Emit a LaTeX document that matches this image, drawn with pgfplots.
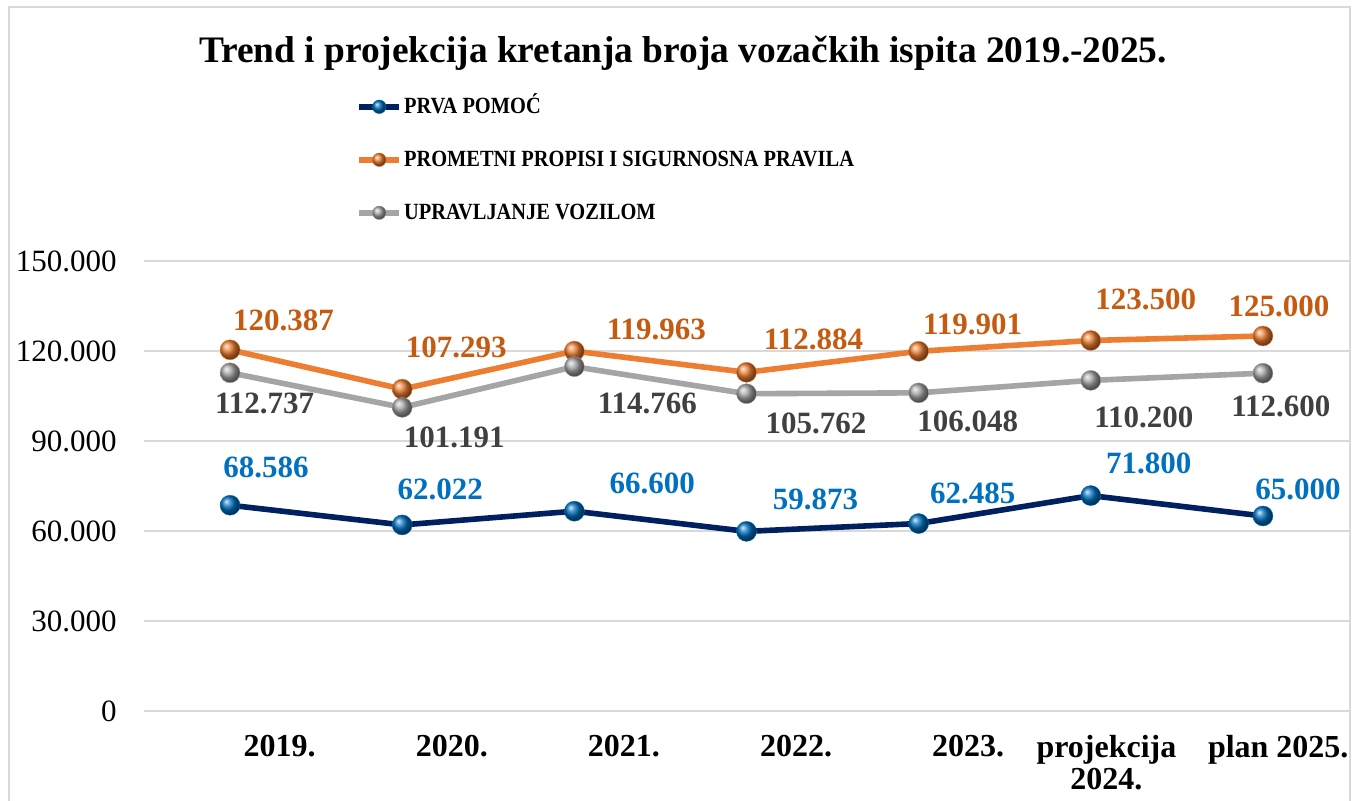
\documentclass[border=0pt]{standalone}
\usepackage{pgfplots}
\pgfplotsset{compat=1.18}
\usepackage{graphicx}
\usepackage{fontspec}
\setmainfont{Liberation Serif}
\definecolor{navy}{HTML}{002060}
\definecolor{blueball}{HTML}{0070C0}
\definecolor{orangeline}{HTML}{ED7D31}
\definecolor{orangelab}{HTML}{C55A11}
\definecolor{grayline}{HTML}{A5A5A5}
\definecolor{graylab}{HTML}{404040}
\definecolor{gridc}{HTML}{D9D9D9}

\pgfplotstableset{col sep=space}
\pgfplotstableread{
x y lx ly
0 68586 18 19
1 62022 19 18
2 66600 39 14
3 59873 34.5 16
4 62485 27 15
5 71800 29 16
6 65000 17.5 13.5
}\prva
\pgfplotstableread{
x y lx ly
0 120387 26.75 14.5
1 107293 27 21
2 119963 41 11
3 112884 33.5 16.5
4 119901 27 13.5
5 123500 27.5 20.75
6 125000 8 15
}\prometni
\pgfplotstableread{
x y lx ly
0 112737 17.25 -15.5
1 101191 26 -15
2 114766 36.5 -18.5
3 105762 34.75 -15
4 106048 24.5 -14.5
5 110200 26.5 -18.5
6 112600 9 -16.5
}\upravljanje

\newcommand{\leg}[1]{\scalebox{0.88}[1]{#1}}

\begin{document}
\begin{tikzpicture}
\useasboundingbox (0,0) rectangle (677pt,400.5pt);
\draw[gridc, line width=1pt] (4.5pt,-5pt) -- (4.5pt,397pt) -- (675pt,397pt) -- (675pt,-5pt);
\node[font=\bfseries\fontsize{18.7}{20}\selectfont, anchor=center] at (341.5pt,374pt) {Trend i projekcija kretanja broja vozačkih ispita 2019.-2025.};
\begin{axis}[
  at={(72pt,45pt)}, anchor=south west,
  scale only axis, width=602.5pt, height=225pt,
  xmin=-0.5, xmax=6.5, ymin=0, ymax=150000,
  axis line style={draw=none},
  tick pos=left,
  ytick={0,30000,60000,90000,120000,150000},
  ymajorgrids, grid style={gridc, line width=1pt},
  major tick length=0pt,
  scaled y ticks=false,
  yticklabel style={font=\fontsize{15.5}{17}\selectfont, inner sep=0pt, xshift=-13.5pt,
    /pgf/number format/.cd, fixed, precision=0, 1000 sep={.}, assume math mode=true},
  xtick={0,...,6},
  xticklabels={2019.,2020.,2021.,2022.,2023.,{projekcija\\2024.},plan 2025.},
  xticklabel style={font=\bfseries\fontsize{16}{16}\selectfont, align=center, anchor=north east, inner sep=0pt, yshift=-12pt, xshift=43pt},
  clip=false,
  nodes near coords={\pgfmathprintnumber[fixed,precision=0,1000 sep={.},assume math mode=true]{\pgfplotspointmeta}},
  visualization depends on={\thisrow{lx} \as \labx},
  visualization depends on={\thisrow{ly} \as \laby},
  every node near coord/.append style={anchor=center, xshift=\labx pt, yshift=\laby pt, inner sep=0pt, font=\bfseries\fontsize{15.5}{17}\selectfont},
  legend cell align=left,
  legend style={draw=none, fill=none, at={(0.176,1.368)}, anchor=north west, inner sep=0pt,
    row sep=15.5pt, font=\bfseries\fontsize{11.6}{12}\selectfont,
    nodes={inner sep=1pt, text height=8pt, text depth=1pt, xshift=-2.5pt}},
  legend image code/.code={\draw[mark repeat=2, mark phase=2, mark size=3.4pt] plot coordinates {(0pt,0pt) (10pt,0pt) (20pt,0pt)};},
]
\addplot[navy, line width=2.8pt, mark=ball, mark size=5pt, mark options={ball color=blueball, draw=blueball, line width=0.2pt},
  nodes near coords style={blueball}] table[x=x,y=y] {\prva};
\addlegendentry{\leg{PRVA POMOĆ}}
\addplot[orangeline, line width=2.8pt, mark=ball, mark size=5pt, mark options={ball color=orangeline, draw=orangeline, line width=0.2pt},
  nodes near coords style={orangelab}] table[x=x,y=y] {\prometni};
\addlegendentry{\leg{PROMETNI PROPISI I SIGURNOSNA PRAVILA}}
\addplot[grayline, line width=2.8pt, mark=ball, mark size=5pt, mark options={ball color=grayline, draw=grayline, line width=0.2pt},
  nodes near coords style={graylab}] table[x=x,y=y] {\upravljanje};
\addlegendentry{\leg{UPRAVLJANJE VOZILOM}}
\end{axis}
\end{tikzpicture}
\end{document}
